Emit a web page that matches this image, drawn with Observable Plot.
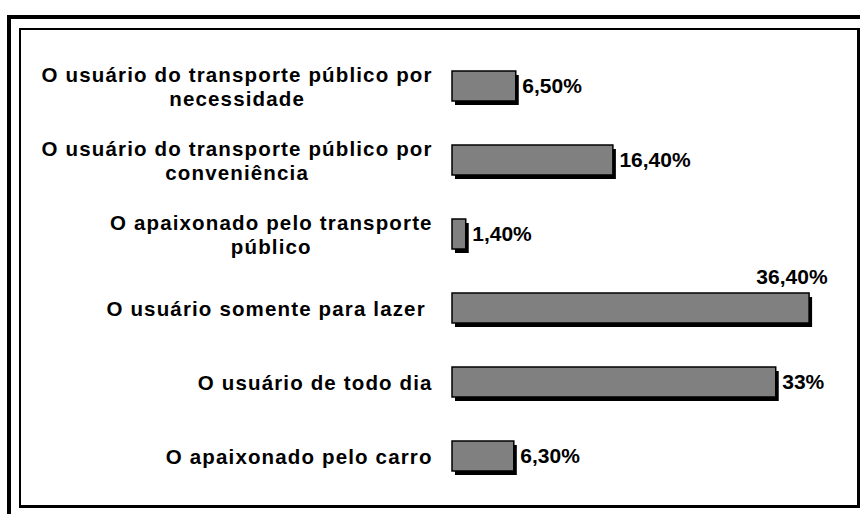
<!DOCTYPE html>
<html>
<head>
<meta charset="utf-8">
<script src="https://cdn.jsdelivr.net/npm/d3@7"></script>
<script src="https://cdn.jsdelivr.net/npm/@observablehq/plot@0.6"></script>
<style>
  html, body { margin: 0; padding: 0; background: #fff; }
  #wrap { position: relative; width: 860px; height: 514px; overflow: hidden; }
  #wrap svg { position: absolute; left: 0; top: 0; }
  .outer { position: absolute; left: 7px; top: 15px; width: 900px; height: 600px;
           border-left: 4px solid #000; border-top: 4px solid #000; pointer-events: none; }
  .inner { position: absolute; left: 19px; top: 28px; width: 836px; height: 475px;
           border-left: 2px solid #000; border-top: 2px solid #000;
           border-right: 3px solid #000; border-bottom: 3px solid #000; pointer-events: none; }
  g.cat text, text.cat, g.cat tspan { letter-spacing: 1.15px; white-space: pre; }
</style>
</head>
<body>
<div id="wrap"><div class="outer"></div><div class="inner"></div></div>
<script>
const categories = [
  "O usuário do transporte público por\nnecessidade",
  "O usuário do transporte público por\nconveniência",
  "O apaixonado pelo transporte\npúblico",
  "O usuário somente para lazer ",
  "O usuário de todo dia",
  "O apaixonado pelo carro"
];
const values = [6.5, 16.4, 1.4, 36.4, 33, 6.3];
const valueLabels = ["6,50%", "16,40%", "1,40%", "36,40%", "33%", "6,30%"];

const data = categories.map((c, i) => ({cat: c, value: values[i], label: valueLabels[i]}));

const FONT = "'Liberation Sans', Arial, Helvetica, sans-serif";
const catSize = 20.5, catSpacing = 1.15, labelRight = 431;
const ctx = document.createElement("canvas").getContext("2d");
ctx.font = `bold ${catSize}px ${FONT}`;
const blockWidth = s => d3.max(s.split("\n"), l => ctx.measureText(l).width + catSpacing * l.length);

const aboveLabel = "36,40%";

const catMarks = data.map(d => Plot.text([d], {
  x: () => 0, y: "cat", text: "cat",
  textAnchor: "middle", lineHeight: 1.17,
  dx: (labelRight + catSpacing) - 452 - blockWidth(d.cat) / 2,
  fontSize: catSize, fontWeight: "bold", fontFamily: FONT, fill: "#000",
  className: "cat"
}));

const chart = Plot.plot({
  width: 860,
  height: 514,
  marginLeft: 452,
  marginRight: 15.6,
  marginTop: 55.2,
  marginBottom: 28.1,
  x: {domain: [0, 40], axis: null},
  y: {type: "band", domain: categories, paddingInner: 0.596, paddingOuter: 0.2, axis: null},
  style: {fontFamily: FONT, background: "transparent"},
  marks: [
    Plot.barX(data, {x: "value", y: "cat", fill: "#000", dx: 3, dy: 4}),
    Plot.barX(data, {x: "value", y: "cat", fill: "#808080", stroke: "#000", strokeWidth: 1.5}),
    Plot.text(data.filter(d => d.label !== aboveLabel), {
      x: "value", y: "cat", text: "label", textAnchor: "start", dx: 6,
      fontSize: 21, fontWeight: "bold", fill: "#000"
    }),
    Plot.text(data.filter(d => d.label === aboveLabel), {
      x: "value", y: "cat", text: "label", textAnchor: "end", dx: 18, dy: -31.5,
      fontSize: 21, fontWeight: "bold", fill: "#000"
    }),
    ...catMarks
  ]
});
document.getElementById("wrap").prepend(chart);
</script>
</body>
</html>
